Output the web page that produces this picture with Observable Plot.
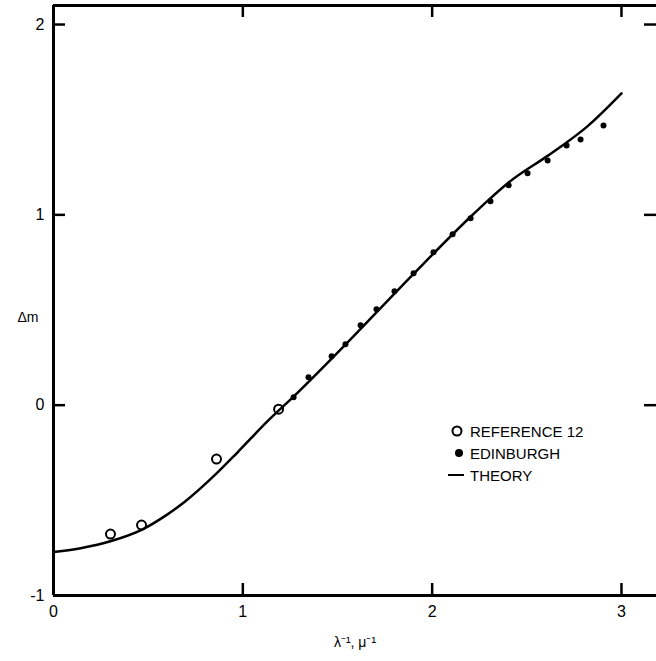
<!DOCTYPE html>
<html><head><meta charset="utf-8">
<script src="https://cdn.jsdelivr.net/npm/d3@7"></script>
<script src="https://cdn.jsdelivr.net/npm/@observablehq/plot@0.6"></script>
<style>
body{margin:0;background:#fff;}
#wrap{position:relative;width:656px;height:661px;overflow:hidden;}
#legend{position:absolute;left:447px;top:420px;font:15px "Liberation Sans",Arial,sans-serif;color:#000;}
.row{display:flex;align-items:center;height:22px;}
.row svg{display:block;margin-right:3px;}
</style></head><body>
<div id="wrap"></div>
<script>
// Reference 12 (open circles)
const ref12X = [0.301, 0.465, 0.861, 1.189];
const ref12Y = [-0.677, -0.630, -0.283, -0.021];
// Edinburgh (filled dots)
const edinX = [1.268, 1.347, 1.469, 1.542, 1.622, 1.706, 1.801, 1.902, 2.007, 2.108, 2.203, 2.308, 2.404, 2.504, 2.610, 2.710, 2.784, 2.905];
const edinY = [0.042, 0.147, 0.257, 0.320, 0.420, 0.504, 0.598, 0.693, 0.803, 0.898, 0.982, 1.071, 1.155, 1.218, 1.286, 1.365, 1.396, 1.470];
// Theory curve
const theoryX = [0, 0.15, 0.30, 0.465, 0.6, 0.69, 0.86, 0.97, 1.14, 1.268, 1.542, 1.902, 2.203, 2.3, 2.404, 2.61, 2.71, 2.82, 3.0];
const theoryY = [-0.772, -0.75, -0.715, -0.655, -0.575, -0.51, -0.36, -0.25, -0.075, 0.045, 0.318, 0.69, 0.99, 1.08, 1.17, 1.31, 1.38, 1.465, 1.638];
// Axes
const xTicks = [0, 1, 2, 3];
const yTicks = [-1, 0, 1, 2];
const xDomain = [0, 3.185];
const yDomain = [-1, 2.1];
const xLabel = "λ⁻¹, μ⁻¹";
const yLabel = "Δm";
const legendLabels = ["REFERENCE 12", "EDINBURGH", "THEORY"];

const ref12 = ref12X.map((x, i) => ({x, y: ref12Y[i]}));
const edin = edinX.map((x, i) => ({x, y: edinY[i]}));
const theory = theoryX.map((x, i) => ({x, y: theoryY[i]}));

const W = 656, H = 661, mL = 53, mR = 0, mT = 5, mB = 66;
const fw = W - mL - mR, fh = H - mT - mB, tk = 12;
const font = "Liberation Sans, Arial, sans-serif";

const chart = Plot.plot({
  width: W, height: H,
  marginLeft: mL, marginRight: mR, marginTop: mT, marginBottom: mB,
  style: {fontFamily: font, background: "#fff", color: "#000", overflow: "visible"},
  x: {domain: xDomain},
  y: {domain: yDomain},
  marks: [
    Plot.axisX(xTicks, {tickSize: 0, tickPadding: 10, fontSize: 16, tickFormat: d => String(d), label: null}),
    Plot.axisY(yTicks, {tickSize: 0, tickPadding: 9, fontSize: 16, tickFormat: d => String(d), label: null}),
    // frame
    Plot.ruleX([xDomain[0]], {strokeWidth: 3}),
    Plot.ruleY([yDomain[0]], {strokeWidth: 3}),
    Plot.ruleY([yDomain[1]], {strokeWidth: 3}),
    // inward ticks
    Plot.tickX(xTicks, {x: d => d, insetTop: fh - tk, strokeWidth: 2.5}),
    Plot.tickX(xTicks.slice(1), {x: d => d, insetBottom: fh - tk, strokeWidth: 2.5}),
    Plot.tickY(yTicks, {y: d => d, insetRight: fw - tk, strokeWidth: 2.5}),
    Plot.tickY(yTicks, {y: d => d, insetLeft: fw - tk, strokeWidth: 2.5}),
    // data
    Plot.line(theory, {x: "x", y: "y", stroke: "#000", strokeWidth: 2.5, curve: "monotone-x"}),
    Plot.dot(ref12, {x: "x", y: "y", r: 4.5, stroke: "#000", strokeWidth: 2, fill: "none"}),
    Plot.dot(edin, {x: "x", y: "y", r: 3, fill: "#000", stroke: "none"}),
    // axis titles
    Plot.text([xLabel], {text: d => d, frameAnchor: "bottom", dy: 51, fontSize: 14}),
    Plot.text([yLabel], {text: d => d, frameAnchor: "left", dx: -36, dy: 17, fontSize: 14})
  ]
});

const wrap = document.getElementById("wrap");
wrap.appendChild(chart);

// legend
const icons = [
  '<svg width="20" height="22"><circle cx="10" cy="11" r="4.5" fill="none" stroke="#000" stroke-width="2"/></svg>',
  '<svg width="20" height="22"><circle cx="12" cy="11" r="4" fill="#000"/></svg>',
  '<svg width="20" height="22"><line x1="1" x2="17" y1="11" y2="11" stroke="#000" stroke-width="2"/></svg>'
];
const legend = document.createElement("div");
legend.id = "legend";
legend.innerHTML = legendLabels.map((t, i) => `<div class="row">${icons[i]}<span>${t}</span></div>`).join("");
wrap.appendChild(legend);
</script>
</body></html>
